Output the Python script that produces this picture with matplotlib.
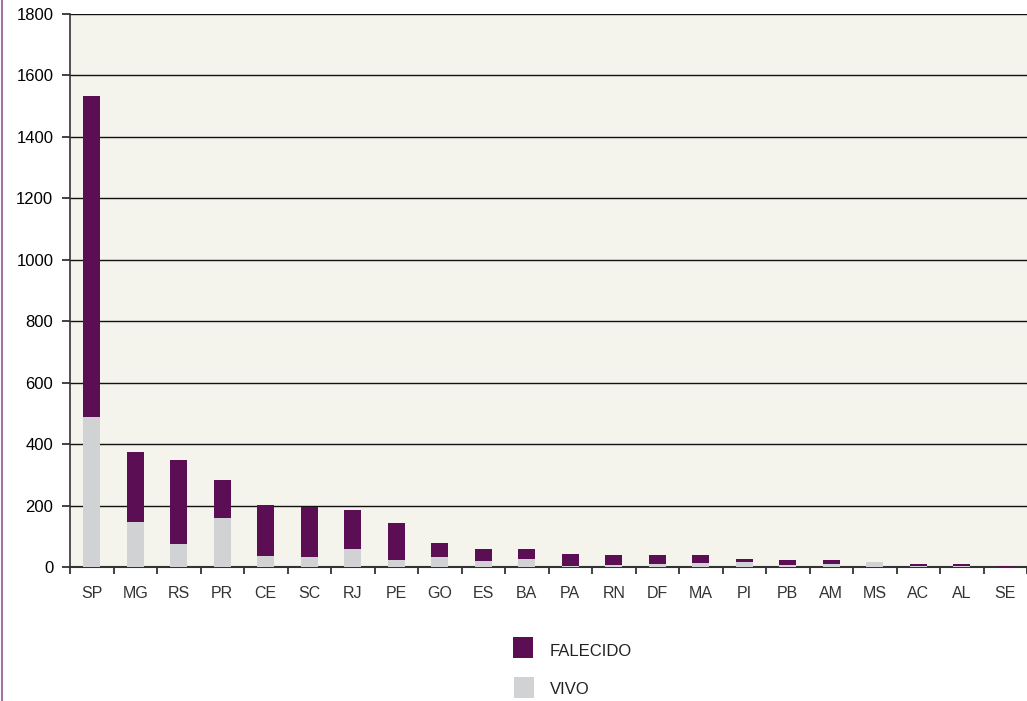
import matplotlib
matplotlib.use("Agg")
import matplotlib.pyplot as plt
from matplotlib.patches import Rectangle
from matplotlib.lines import Line2D

categories = ["SP", "MG", "RS", "PR", "CE", "SC", "RJ", "PE", "GO", "ES", "BA",
              "PA", "RN", "DF", "MA", "PI", "PB", "AM", "MS", "AC", "AL", "SE"]
vivo = [488, 146, 75, 160, 36, 33, 59, 23, 34, 20, 26,
        2, 6, 9, 13, 16, 8, 10, 16, 2, 2, 0]
falecido_total = [1533, 374, 348, 283, 202, 195, 185, 143, 77, 59, 59,
                  42, 39, 39, 38, 27, 23, 23, 16, 10, 10, 3]
falecido = [t - v for t, v in zip(falecido_total, vivo)]
yticks = [0, 200, 400, 600, 800, 1000, 1200, 1400, 1600, 1800]

purple = "#5B0E54"
gray = "#D1D2D4"
bg = "#F4F3EC"

fig = plt.figure(figsize=(10.27, 7.01), dpi=100)
ax = fig.add_axes([70/1027, 134/701, 957/1027, 553/701])
ax.set_facecolor(bg)

x = list(range(len(categories)))
ax.bar(x, vivo, width=0.4, color=gray, zorder=3)
ax.bar(x, falecido, width=0.4, bottom=vivo, color=purple, zorder=3)

ax.set_xlim(-0.5, len(categories) - 0.5)
ax.set_ylim(0, 1800)
ax.set_yticks(yticks)
ax.yaxis.grid(True, color="#111111", linewidth=1.0, zorder=1)
ax.set_axisbelow(True)

ax.set_xticks([i - 0.5 for i in range(len(categories) + 1)])
ax.set_xticklabels([])
ax.set_xticks(x, minor=True)
ax.set_xticklabels(categories, minor=True)
ax.tick_params(axis="x", which="minor", length=0, pad=14, labelsize=11.5,
               labelcolor="#333333")
ax.tick_params(axis="x", which="major", length=5, width=1.2, color="#222222",
               direction="out")
ax.tick_params(axis="y", length=6, width=1.2, color="#222222", labelsize=12,
               pad=6)
for lab in ax.get_yticklabels() + ax.get_xticklabels(minor=True):
    lab.set_fontfamily(["Liberation Sans", "DejaVu Sans"])

for s in ["top", "right"]:
    ax.spines[s].set_visible(False)
ax.spines["left"].set_color("#333333")
ax.spines["left"].set_linewidth(1.2)
ax.spines["bottom"].set_color("#333333")
ax.spines["bottom"].set_linewidth(1.5)

# left purple border
fig.add_artist(Line2D([2/1027, 2/1027], [0, 1], color="#A374A3", linewidth=1.5))

# legend
narrow = ["Liberation Sans Narrow", "Liberation Sans", "DejaVu Sans"]
fig.add_artist(Rectangle((513/1027, 1 - 658/701), 20/1027, 21/701,
                         facecolor=purple, edgecolor="none"))
fig.text(550/1027, 1 - 651/701, "FALECIDO", fontsize=12, va="center",
         ha="left", color="#222222", family=narrow)
fig.add_artist(Rectangle((514/1027, 1 - 698/701), 20/1027, 21/701,
                         facecolor=gray, edgecolor="none"))
fig.text(550/1027, 1 - 690/701, "VIVO", fontsize=12, va="center",
         ha="left", color="#222222", family=narrow)

fig.savefig("out.png", dpi=100)
